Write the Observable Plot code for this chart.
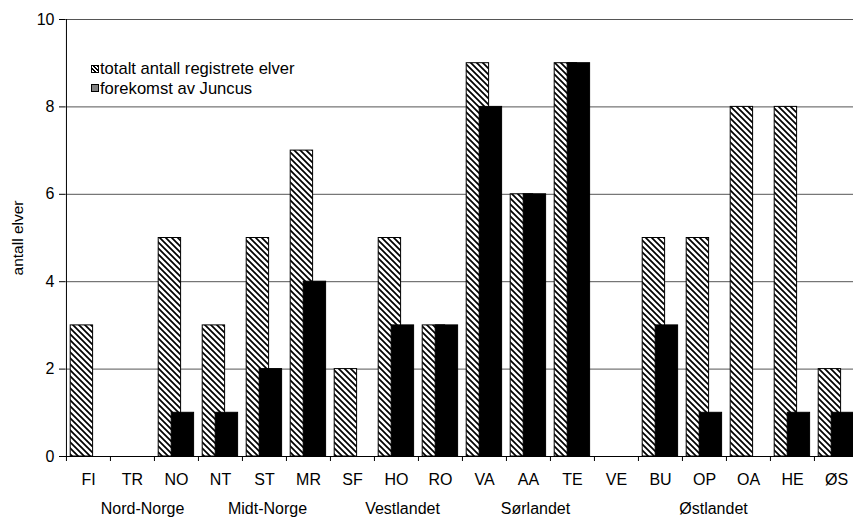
<!DOCTYPE html>
<html>
<head>
<meta charset="utf-8">
<script src="https://cdn.jsdelivr.net/npm/d3@7"></script>
<script src="https://cdn.jsdelivr.net/npm/@observablehq/plot@0.6"></script>
<style>
  html, body { margin: 0; padding: 0; background: white; overflow: hidden; }
  #wrap { position: relative; width: 853px; height: 518px; font-family: 'Liberation Sans', Arial, sans-serif; }
  #legend { position: absolute; left: 91px; top: 59px; font-size: 16.6px; color: black; line-height: 19.5px; }
  .row { display: flex; align-items: center; white-space: nowrap; }
  .sw { width: 6px; height: 6px; border: 1px solid black; margin-right: 1px; box-sizing: content-box; }
</style>
</head>
<body>
<div id="wrap"></div>
<script>
const categories = ["FI","TR","NO","NT","ST","MR","SF","HO","RO","VA","AA","TE","VE","BU","OP","OA","HE","ØS"];
const totalt = [3,0,5,3,5,7,2,5,3,9,6,9,0,5,5,8,8,2];
const juncus = [0,0,1,1,2,4,0,3,3,8,6,9,0,3,1,0,1,1];
const regions = ["Nord-Norge","Midt-Norge","Vestlandet","Sørlandet","Østlandet"];
const regionAnchor = ["TR","ST","HO","AA","OP"];
const yTicks = [0,2,4,6,8,10];
const seriesNames = ["totalt antall registrete elver","forekomst av Juncus"];

const W = 853, H = 518, ML = 65, MR = -6, MT = 19, MB = 62;
const bw = (W - MR - ML) / categories.length;
const regionShift = [10, 3, 6, 7, 9];

const rows = categories.map((c, i) => ({cat: c, total: totalt[i], juncus: juncus[i]}));

const groupMarks = regions.map((r, i) =>
  Plot.text([r], {x: () => regionAnchor[i], y: () => 0, dx: regionShift[i], dy: 46, lineAnchor: "top", fontSize: 16})
);

const chart = Plot.plot({
  width: W, height: H,
  marginLeft: ML, marginRight: MR, marginTop: MT, marginBottom: MB,
  style: {fontFamily: "'Liberation Sans', Arial, sans-serif", fontSize: "16px", color: "black", background: "white"},
  x: {type: "band", domain: categories, padding: 0},
  y: {domain: [0, 10]},
  marks: [
    Plot.ruleY(yTicks.filter(t => t > 0), {stroke: "#555", strokeWidth: 1}),
    Plot.barY(rows.filter(d => d.total > 0), {x: "cat", y: "total", fill: "url(#hatch)", stroke: "black", strokeWidth: 1, insetLeft: 4.2, insetRight: 17.4}),
    Plot.barY(rows.filter(d => d.juncus > 0), {x: "cat", y: "juncus", fill: "black", stroke: "black", strokeWidth: 1, insetLeft: 17.2, insetRight: 4.4}),
    Plot.ruleY([0], {stroke: "black"}),
    Plot.ruleX([categories[0]], {dx: -bw / 2, stroke: "black"}),
    Plot.axisY({ticks: yTicks, tickSize: 6, tickPadding: 5, label: null, fontSize: 16}),
    Plot.axisX({tickSize: 5, tickFormat: () => "", dx: -bw / 2, label: null}),
    Plot.axisX({tickSize: 0, tickPadding: 17, label: null, fontSize: 16}),
    Plot.text(["antall elver"], {frameAnchor: "left", textAnchor: "middle", lineAnchor: "middle", rotate: -90, dx: -47, fontSize: 15.5}),
    ...groupMarks
  ]
});

const ns = "http://www.w3.org/2000/svg";
const defs = document.createElementNS(ns, "defs");
defs.innerHTML = '<pattern id="hatch" patternUnits="userSpaceOnUse" width="6" height="6">' +
  '<rect width="6" height="6" fill="white"/>' +
  '<path d="M-1,-1 L7,7 M-1,5 L1,7 M5,-1 L7,1" stroke="black" stroke-width="1.7"/></pattern>';
chart.insertBefore(defs, chart.firstChild);

const wrap = document.getElementById("wrap");
wrap.appendChild(chart);

const legend = document.createElement("div");
legend.id = "legend";
const swatchStyles = ["background-image: repeating-linear-gradient(45deg, white 0 1.5px, black 1.5px 3px);", "background: #808080;"];
seriesNames.forEach((name, i) => {
  const row = document.createElement("div");
  row.className = "row";
  const sw = document.createElement("span");
  sw.className = "sw";
  sw.setAttribute("style", swatchStyles[i]);
  const t = document.createElement("span");
  t.textContent = name;
  row.appendChild(sw);
  row.appendChild(t);
  legend.appendChild(row);
});
wrap.appendChild(legend);
</script>
</body>
</html>
